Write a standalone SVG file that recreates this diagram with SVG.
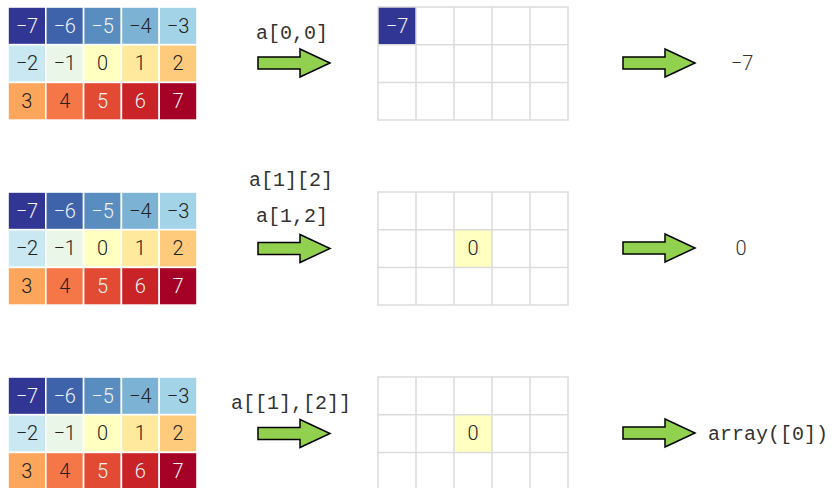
<svg xmlns="http://www.w3.org/2000/svg" xmlns:xlink="http://www.w3.org/1999/xlink" width="833" height="488" viewBox="0 0 833 488">
<style>
.c{stroke:#fff;stroke-width:1.6}
.t{font-family:Roboto,"Liberation Sans",sans-serif;font-weight:300;font-size:20px;text-anchor:middle}
.w{fill:#f2f2f2}
.d{fill:#222}
.g{fill:none;stroke:#dcdcdc;stroke-width:1.5}
.m{font-family:"Liberation Mono","DejaVu Sans Mono",monospace;font-size:20px;fill:#333}
.o{font-family:Roboto,"Liberation Sans",sans-serif;font-weight:300;font-size:20px;fill:#333;text-anchor:middle}
.arrow{fill:#92d050;stroke:#000;stroke-width:1.5;stroke-linejoin:miter}
</style>
<defs>
<path id="arr" class="arrow" d="M0,-6 H42 V-14 L72,0 L42,14 V6 H0 Z"/>
<g id="src">
<rect class="c" x="8" y="0" width="37.8" height="37.7" fill="#313695"/>
<rect class="c" x="45.8" y="0" width="37.8" height="37.7" fill="#3f63ab"/>
<rect class="c" x="83.6" y="0" width="37.8" height="37.7" fill="#598dc0"/>
<rect class="c" x="121.4" y="0" width="37.8" height="37.7" fill="#7cb3d4"/>
<rect class="c" x="159.2" y="0" width="37.8" height="37.7" fill="#a3d3e6"/>
<rect class="c" x="8" y="37.7" width="37.8" height="37.7" fill="#c9e8f2"/>
<rect class="c" x="45.8" y="37.7" width="37.8" height="37.7" fill="#e9f6e8"/>
<rect class="c" x="83.6" y="37.7" width="37.8" height="37.7" fill="#ffffbf"/>
<rect class="c" x="121.4" y="37.7" width="37.8" height="37.7" fill="#fee99d"/>
<rect class="c" x="159.2" y="37.7" width="37.8" height="37.7" fill="#fecb7c"/>
<rect class="c" x="8" y="75.4" width="37.8" height="37.7" fill="#fca55d"/>
<rect class="c" x="45.8" y="75.4" width="37.8" height="37.7" fill="#f57647"/>
<rect class="c" x="83.6" y="75.4" width="37.8" height="37.7" fill="#e34a33"/>
<rect class="c" x="121.4" y="75.4" width="37.8" height="37.7" fill="#c92227"/>
<rect class="c" x="159.2" y="75.4" width="37.8" height="37.7" fill="#a50026"/>
<text class="t w" x="26.9" y="25.5">−7</text>
<text class="t w" x="64.7" y="25.5">−6</text>
<text class="t w" x="102.5" y="25.5">−5</text>
<text class="t d" x="140.3" y="25.5">−4</text>
<text class="t d" x="178.1" y="25.5">−3</text>
<text class="t d" x="26.9" y="63.2">−2</text>
<text class="t d" x="64.7" y="63.2">−1</text>
<text class="t d" x="102.5" y="63.2">0</text>
<text class="t d" x="140.3" y="63.2">1</text>
<text class="t d" x="178.1" y="63.2">2</text>
<text class="t d" x="26.9" y="100.9">3</text>
<text class="t d" x="64.7" y="100.9">4</text>
<text class="t w" x="102.5" y="100.9">5</text>
<text class="t w" x="140.3" y="100.9">6</text>
<text class="t w" x="178.1" y="100.9">7</text>
</g>
<g id="grid">
<rect class="g" x="378" y="0" width="190" height="113"/>
<path class="g" d="M416,0V113M454,0V113M492,0V113M530,0V113M378,37.7H568M378,75.4H568"/>
</g>
</defs>

<g id="source1"><use xlink:href="#src" transform="translate(0,7)"/></g>
<g id="source2"><use xlink:href="#src" transform="translate(0,192)"/></g>
<g id="source3"><use xlink:href="#src" transform="translate(0,377)"/></g>

<g id="result1">
<rect x="378" y="7" width="38" height="37.7" fill="#313695"/>
<use xlink:href="#grid" transform="translate(0,7)"/>
<text class="t w" x="397" y="32.5">−7</text>
</g>
<g id="result2">
<rect x="454" y="229.7" width="38" height="37.7" fill="#ffffbf"/>
<use xlink:href="#grid" transform="translate(0,192)"/>
<text class="t d" x="473" y="255.2">0</text>
</g>
<g id="result3">
<rect x="454" y="414.7" width="38" height="37.7" fill="#ffffbf"/>
<use xlink:href="#grid" transform="translate(0,377)"/>
<text class="t d" x="473" y="440.2">0</text>
</g>

<g id="labels">
<text class="m" x="256" y="39">a[0,0]</text>
<text class="m" x="249" y="186">a[1][2]</text>
<text class="m" x="256" y="222">a[1,2]</text>
<text class="m" x="231" y="409">a[[1],[2]]</text>
</g>

<g id="outputs">
<text class="o" x="742" y="70">−7</text>
<text class="o" x="741" y="255">0</text>
<text class="m" x="708" y="440">array([0])</text>
</g>

<g id="connectors">
<use xlink:href="#arr" transform="translate(258,63)"/>
<use xlink:href="#arr" transform="translate(258,248.5)"/>
<use xlink:href="#arr" transform="translate(258,433.5)"/>
<use xlink:href="#arr" transform="translate(623,63)"/>
<use xlink:href="#arr" transform="translate(623,248)"/>
<use xlink:href="#arr" transform="translate(623,433)"/>
</g>
</svg>
